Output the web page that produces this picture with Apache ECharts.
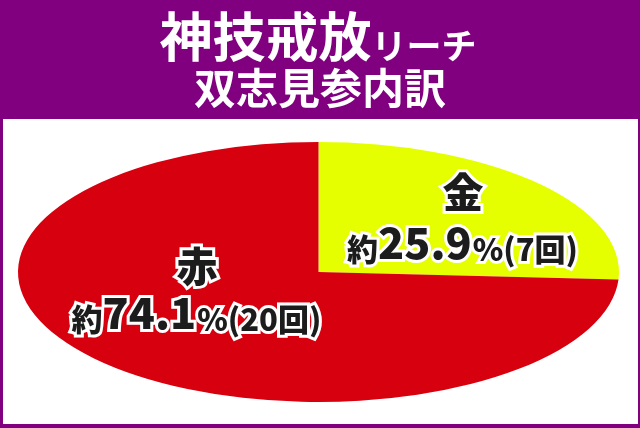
<!DOCTYPE html>
<html>
<head>
<meta charset="utf-8">
<script src="https://cdn.jsdelivr.net/npm/echarts@6/dist/echarts.min.js"></script>
<style>
  html, body { margin: 0; padding: 0; background: #800080; }
  #chart { width: 640px; height: 428px; }
</style>
</head>
<body>
<div id="chart"></div>
<script>
// ---- data ----
const categories = ['金', '赤'];
const counts = [7, 20];
const titleMain = '神技戒放';
const titleSub = 'リーチ';
const titleLine2 = '双志見参内訳';

// ---- styles / layout ----
const sliceColors = ['#E6FF00', '#D7000F'];
const FONT = '"Noto Sans CJK JP", "Noto Sans", sans-serif';
const ellipse = { cx: 318.5, cy: 272, rx: 300.5, ry: 130 };
const labelLayout = [
  { x: 463, nameY: 192, valueY: 243 },
  { x: 197, nameY: 266, valueY: 313 }
];

const total = counts.reduce((a, b) => a + b, 0);

const chart = echarts.init(document.getElementById('chart'), null, { renderer: 'canvas' });

const strokeW = 6;
function labelRich() {
  const base = { fill: '#1c1c1c', stroke: '#fff', lineWidth: strokeW, fontFamily: FONT, fontWeight: 900, verticalAlign: 'bottom' };
  return {
    s: Object.assign({}, base, { fontSize: 31 }),
    n: Object.assign({}, base, { fontSize: 43 }),
    p: Object.assign({}, base, { fontSize: 31, padding: [0, 1, 0, 1] })
  };
}

chart.setOption({
  backgroundColor: '#800080',
  animation: false,
  graphic: [
    { type: 'rect', left: 3, top: 119, shape: { width: 635, height: 305 }, style: { fill: '#fff' }, z: 0 },
    {
      type: 'text', x: 318, y: 37, z: 10,
      style: {
        text: '{a|' + titleMain + '}{b|' + titleSub + '}',
        align: 'center', verticalAlign: 'middle',
        rich: {
          a: { fontSize: 53, fontWeight: 'bold', fontFamily: FONT, fill: '#fff', verticalAlign: 'bottom' },
          b: { fontSize: 35, fontWeight: 'bold', fontFamily: FONT, fill: '#fff', verticalAlign: 'bottom' }
        }
      }
    },
    {
      type: 'text', x: 320, y: 88, z: 10,
      style: {
        text: titleLine2, align: 'center', verticalAlign: 'middle',
        fontSize: 42, fontWeight: 'bold', fontFamily: FONT, fill: '#fff'
      }
    }
  ],
  series: [{
    type: 'custom',
    coordinateSystem: 'none',
    z: 5,
    data: counts.map((v, i) => ({ name: categories[i], value: v })),
    renderItem: function (params, api) {
      const i = params.dataIndex;
      const v = api.value(0);
      let before = 0;
      for (let k = 0; k < i; k++) before += counts[k];
      const a0 = -Math.PI / 2 + 2 * Math.PI * before / total;
      const a1 = a0 + 2 * Math.PI * v / total;
      const pct = (v / total * 100).toFixed(1);
      const L = labelLayout[i];
      return {
        type: 'group',
        children: [
          {
            type: 'sector',
            x: ellipse.cx, y: ellipse.cy,
            scaleX: ellipse.rx / ellipse.ry, scaleY: 1,
            shape: { cx: 0, cy: 0, r: ellipse.ry, r0: 0, startAngle: a0, endAngle: a1, clockwise: true },
            style: { fill: sliceColors[i] },
            z2: 1
          },
          {
            type: 'text', x: L.x, y: L.nameY, z2: 20,
            style: {
              text: categories[i], align: 'center', verticalAlign: 'middle',
              fontSize: 41, fontWeight: 900, fontFamily: FONT,
              fill: '#1c1c1c', stroke: '#fff', lineWidth: strokeW
            }
          },
          {
            type: 'text', x: L.x, y: L.valueY, z2: 20,
            style: {
              text: '{s|約}{n|' + pct + '}{p|%(' + v + '回)}',
              align: 'center', verticalAlign: 'middle',
              fill: '#1c1c1c', stroke: '#fff', lineWidth: strokeW,
              rich: labelRich()
            }
          }
        ]
      };
    }
  }]
});
</script>
</body>
</html>
